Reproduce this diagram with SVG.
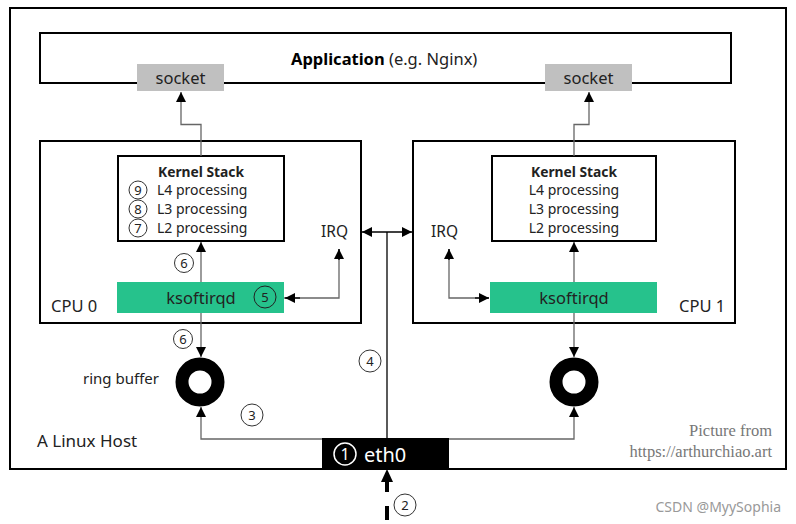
<svg xmlns="http://www.w3.org/2000/svg" width="796" height="524" viewBox="0 0 796 524">
<defs>
<marker id="ah" viewBox="0 0 10 10" refX="10" refY="5" markerWidth="10" markerHeight="10" markerUnits="userSpaceOnUse" orient="auto-start-reverse"><path d="M0,0 L10,5 L0,10 z" fill="#000"/></marker>
</defs>
<style>
.box{fill:#fff;stroke:#000;stroke-width:2}
.t{font-family:"Noto Sans","Open Sans",sans-serif;fill:#222}
.c{fill:#fff;stroke:#333;stroke-width:1}
.cn{font-family:"Noto Sans","Open Sans",sans-serif;font-size:13px;fill:#222;text-anchor:middle}
.ln{fill:none;stroke:#666;stroke-width:1.3}
.lb{fill:none;stroke:#000;stroke-width:1.3}
.green{fill:#26c28c}
.sock{fill:#c0c0c0}
</style>
<rect width="796" height="524" fill="#fff"/>
<g id="host"><rect class="box" x="10" y="8" width="776" height="461"/>
<text class="t" x="37" y="447" font-size="17">A Linux Host</text></g>
<g id="application"><rect class="box" x="40" y="33" width="691" height="50"/>
<text class="t" x="291" y="65" font-size="16.5"><tspan font-weight="bold" fill="#000">Application</tspan> (e.g. Nginx)</text></g>
<g id="socket0"><rect class="sock" x="137" y="64" width="87" height="27"/><text class="t" x="180.5" y="84" font-size="16.5" text-anchor="middle" fill="#333">socket</text></g>
<g id="socket1"><rect class="sock" x="545" y="64" width="87" height="27"/><text class="t" x="588.5" y="84" font-size="16.5" text-anchor="middle" fill="#333">socket</text></g>
<g id="cpu0"><rect class="box" x="40" y="141" width="321" height="182"/><text class="t" x="51" y="312" font-size="16.5">CPU 0</text></g>
<g id="cpu1"><rect class="box" x="413" y="141" width="322" height="182"/><text class="t" x="679" y="312" font-size="16.5">CPU 1</text></g>
<g id="kernel0"><rect class="box" x="118" y="156" width="166" height="85"/>
<text class="t" x="201" y="177" font-size="13.8" font-weight="bold" text-anchor="middle" fill="#000">Kernel Stack</text>
<circle class="c" cx="138" cy="190" r="9"/><text class="cn" x="138" y="195">9</text>
<circle class="c" cx="138" cy="209" r="9"/><text class="cn" x="138" y="214">8</text>
<circle class="c" cx="138" cy="228" r="9"/><text class="cn" x="138" y="233">7</text>
<text class="t" x="157" y="195" font-size="14">L4 processing</text>
<text class="t" x="157" y="214" font-size="14">L3 processing</text>
<text class="t" x="157" y="233" font-size="14">L2 processing</text></g>
<g id="kernel1"><rect class="box" x="492" y="156" width="164" height="85"/>
<text class="t" x="574" y="177" font-size="13.8" font-weight="bold" text-anchor="middle" fill="#000">Kernel Stack</text>
<text class="t" x="574" y="195" font-size="14" text-anchor="middle">L4 processing</text>
<text class="t" x="574" y="214" font-size="14" text-anchor="middle">L3 processing</text>
<text class="t" x="574" y="233" font-size="14" text-anchor="middle">L2 processing</text></g>
<g id="irq0"><text class="t" x="321" y="237" font-size="15.5">IRQ</text></g>
<g id="irq1"><text class="t" x="431" y="237" font-size="15.5">IRQ</text></g>
<g id="ksoftirqd0"><rect class="green" x="117" y="282" width="167" height="31"/><text class="t" x="201" y="304" font-size="16.5" text-anchor="middle">ksoftirqd</text>
<circle cx="265" cy="297" r="11" fill="none" stroke="#222" stroke-width="1"/><text class="cn" x="265" y="302" font-size="14">5</text></g>
<g id="ksoftirqd1"><rect class="green" x="490" y="282" width="167" height="31"/><text class="t" x="574" y="304" font-size="16.5" text-anchor="middle">ksoftirqd</text></g>
<g id="ring0"><circle cx="200" cy="382" r="18" fill="none" stroke="#000" stroke-width="13"/><text class="t" x="83" y="384" font-size="15">ring buffer</text></g>
<g id="ring1"><circle cx="574" cy="382" r="18" fill="none" stroke="#000" stroke-width="13"/></g>
<g id="eth0"><rect x="322" y="438" width="127" height="31" fill="#000"/>
<circle cx="345" cy="454" r="11" fill="none" stroke="#fff" stroke-width="1.5"/><text x="345" y="460" font-family="Noto Sans,sans-serif" font-size="16" fill="#fff" text-anchor="middle">1</text>
<text x="364" y="462" font-family="Noto Sans,sans-serif" font-size="20" fill="#fff">eth0</text></g>
<g id="connectors">
<path class="ln" d="M201,156 V124.5 H181 V92" marker-end="url(#ah)"/>
<path class="ln" d="M574,156 V124.5 H589 V92" marker-end="url(#ah)"/>
<path class="lb" d="M362,232 H412" marker-start="url(#ah)" marker-end="url(#ah)"/>
<path class="lb" d="M387,232 V438"/>
<path class="ln" d="M284,298 H339 V249"/>
<path class="lb" d="M300,298 H285" marker-end="url(#ah)"/>
<path class="lb" d="M339,260 V249" marker-end="url(#ah)"/>
<path class="ln" d="M489,298 H449 V249"/>
<path class="lb" d="M475,298 H489" marker-end="url(#ah)"/>
<path class="lb" d="M449,260 V249" marker-end="url(#ah)"/>
<path class="ln" d="M201,282 V242" marker-end="url(#ah)"/>
<path class="ln" d="M574,282 V242" marker-end="url(#ah)"/>
<path class="ln" d="M201,313 V357" marker-end="url(#ah)"/>
<path class="ln" d="M574,313 V357" marker-end="url(#ah)"/>
<path class="ln" d="M322,439 H201 V407" marker-end="url(#ah)"/>
<path class="ln" d="M449,439 H574 V407" marker-end="url(#ah)"/>
<path d="M387,520 V506 M387,492 V478" stroke="#000" stroke-width="4" fill="none"/>
<path d="M381,482 L387,469 L393,482 z" fill="#000"/>
</g>
<g id="labels">
<circle class="c" cx="184" cy="263" r="9.5"/><text class="cn" x="184" y="268">6</text>
<circle class="c" cx="183" cy="339" r="9.5"/><text class="cn" x="183" y="344">6</text>
<circle class="c" cx="252" cy="415" r="11"/><text class="cn" x="252" y="420" font-size="14">3</text>
<circle class="c" cx="370" cy="361" r="11"/><text class="cn" x="370" y="366" font-size="14">4</text>
<circle class="c" cx="405" cy="505" r="11"/><text class="cn" x="405" y="510" font-size="14">2</text>
</g>
<g id="credits">
<text x="772" y="436" font-family="Liberation Serif,serif" font-size="16.5" fill="#777" text-anchor="end">Picture from</text>
<text x="772" y="457" font-family="Liberation Serif,serif" font-size="16.5" fill="#777" text-anchor="end">https://arthurchiao.art</text>
<text x="781" y="512" font-family="Noto Sans,sans-serif" font-size="14" fill="#999" text-anchor="end">CSDN @MyySophia</text>
</g>
</svg>
